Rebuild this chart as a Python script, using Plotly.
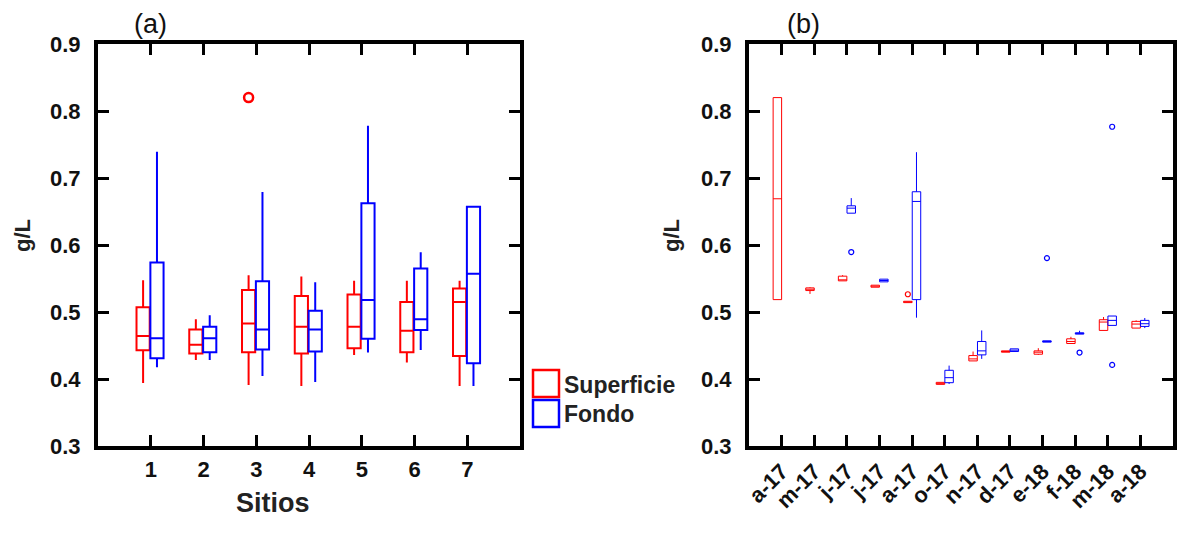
import plotly.graph_objects as go

W, H = 1179, 534

# ---------------- Panel (a) data: sites ----------------
sites = [1, 2, 3, 4, 5, 6, 7]
sup_lo = [0.394, 0.4285, 0.391, 0.3896, 0.436, 0.4245, 0.3896]
sup_q1 = [0.443, 0.438, 0.440, 0.438, 0.446, 0.440, 0.4345]
sup_med = [0.464, 0.451, 0.483, 0.478, 0.478, 0.472, 0.515]
sup_q3 = [0.507, 0.474, 0.533, 0.524, 0.526, 0.515, 0.535]
sup_hi = [0.5475, 0.489, 0.555, 0.553, 0.5465, 0.5465, 0.5465]
sup_out_site = [3]
sup_out_val = [0.820]

fon_lo = [0.4175, 0.4285, 0.4046, 0.3956, 0.4394, 0.4434, 0.3896]
fon_q1 = [0.431, 0.440, 0.444, 0.441, 0.460, 0.473, 0.4235]
fon_med = [0.461, 0.461, 0.474, 0.474, 0.518, 0.489, 0.557]
fon_q3 = [0.574, 0.478, 0.546, 0.502, 0.6625, 0.565, 0.657]
fon_hi = [0.739, 0.495, 0.679, 0.5445, 0.778, 0.589, 0.658]

# ---------------- Panel (b) data: months ----------------
months = ["a-17", "m-17", "j-17", "j-17", "a-17", "o-17", "n-17", "d-17",
          "e-18", "f-18", "m-18", "a-18"]
b_sup_idx = [0, 1, 2, 3, 4, 5, 6, 7, 8, 9, 10, 11]
b_sup_lo = [0.5185, 0.527, 0.5465, 0.537, 0.514, 0.392, 0.427, 0.440, 0.436, 0.453, 0.4725, 0.476]
b_sup_q1 = [0.5185, 0.532, 0.5465, 0.537, 0.514, 0.392, 0.427, 0.440, 0.437, 0.453, 0.4725, 0.476]
b_sup_med = [0.669, 0.534, 0.548, 0.5385, 0.515, 0.394, 0.430, 0.441, 0.440, 0.456, 0.485, 0.482]
b_sup_q3 = [0.820, 0.536, 0.5535, 0.540, 0.516, 0.395, 0.435, 0.442, 0.442, 0.460, 0.4885, 0.486]
b_sup_hi = [0.820, 0.537, 0.555, 0.540, 0.516, 0.395, 0.441, 0.442, 0.446, 0.463, 0.4925, 0.4875]
b_sup_out_idx = [4]
b_sup_out_val = [0.5265]

b_fon_idx = [2, 3, 4, 5, 6, 7, 8, 9, 10, 11]
b_fon_lo = [0.6475, 0.545, 0.4915, 0.3925, 0.430, 0.441, 0.455, 0.467, 0.480, 0.476]
b_fon_q1 = [0.6475, 0.545, 0.5185, 0.3945, 0.436, 0.441, 0.455, 0.467, 0.480, 0.4785]
b_fon_med = [0.655, 0.547, 0.665, 0.402, 0.442, 0.443, 0.456, 0.468, 0.4875, 0.4825]
b_fon_q3 = [0.6585, 0.549, 0.6795, 0.413, 0.456, 0.445, 0.457, 0.469, 0.494, 0.4875]
b_fon_hi = [0.670, 0.549, 0.7385, 0.420, 0.4725, 0.445, 0.457, 0.472, 0.494, 0.491]
b_fon_out_idx = [2, 8, 9, 10, 10]
b_fon_out_val = [0.5895, 0.5805, 0.4395, 0.7765, 0.421]

RED = "#ff0000"
BLUE = "#0000ff"
FONT = "Liberation Sans, Arial, Helvetica, sans-serif"

# offsets (style)
A_OFF_R, A_OFF_B, A_W = -0.145, 0.118, 0.25
B_OFF_R, B_OFF_B, B_W = -0.13, 0.135, 0.26

fig = go.Figure()

def add_box(xs, lo, q1, med, q3, hi, off, width, color, lw, xa, ya):
    fig.add_trace(go.Box(
        x=[x + off for x in xs], lowerfence=lo, q1=q1, median=med, q3=q3,
        upperfence=hi, width=width, line=dict(color=color, width=lw),
        fillcolor="rgba(0,0,0,0)", whiskerwidth=0, boxpoints=False,
        showlegend=False, xaxis=xa, yaxis=ya, hoverinfo="skip"))

def add_out(xs, vals, off, color, size, lw, xa, ya):
    fig.add_trace(go.Scatter(
        x=[x + off for x in xs], y=vals, mode="markers",
        marker=dict(symbol="circle-open", size=size, color=color,
                    line=dict(width=lw, color=color)),
        showlegend=False, xaxis=xa, yaxis=ya, hoverinfo="skip"))

# panel a
add_box(sites, sup_lo, sup_q1, sup_med, sup_q3, sup_hi, A_OFF_R, A_W, RED, 2, "x", "y")
add_box(sites, fon_lo, fon_q1, fon_med, fon_q3, fon_hi, A_OFF_B, A_W, BLUE, 2, "x", "y")
add_out(sup_out_site, sup_out_val, A_OFF_R, RED, 9, 2.5, "x", "y")

# panel b
add_box(b_sup_idx, b_sup_lo, b_sup_q1, b_sup_med, b_sup_q3, b_sup_hi, B_OFF_R, B_W, RED, 1, "x2", "y2")
add_box(b_fon_idx, b_fon_lo, b_fon_q1, b_fon_med, b_fon_q3, b_fon_hi, B_OFF_B, B_W, BLUE, 1, "x2", "y2")
add_out(b_sup_out_idx, b_sup_out_val, B_OFF_R, RED, 5, 1.2, "x2", "y2")
add_out(b_fon_out_idx, b_fon_out_val, B_OFF_B, BLUE, 5, 1.2, "x2", "y2")

def px_x(p):
    return p / W

def px_y(p):
    return 1 - p / H

axis_common = dict(showline=True, linecolor="black", linewidth=4, mirror="allticks",
                   ticks="inside", ticklen=11, tickwidth=2.5, tickcolor="black",
                   showgrid=False, zeroline=False, automargin=False,
                   tickfont=dict(family=FONT, size=22, color="#111", weight="bold"))

yticks = [0.3, 0.4, 0.5, 0.6, 0.7, 0.8, 0.9]

fig.update_layout(
    width=W, height=H, margin=dict(l=0, r=0, t=0, b=0),
    paper_bgcolor="white", plot_bgcolor="white",
    xaxis=dict(domain=[px_x(98), px_x(520)], range=[0, 8], tickvals=sites,
               ticktext=[str(s) for s in sites], anchor="y", ticklabelstandoff=1,
               **axis_common),
    yaxis=dict(domain=[px_y(446), px_y(44)], range=[0.3, 0.9], tickvals=yticks,
               ticktext=[f"{v:.1f}" for v in yticks], anchor="x", ticklabelstandoff=9,
               **axis_common),
    xaxis2=dict(domain=[px_x(749), px_x(1173)], range=[-1, 12],
                tickvals=list(range(len(months))), ticktext=months, tickangle=-45,
                anchor="y2", ticklabelstandoff=0, **axis_common),
    yaxis2=dict(domain=[px_y(446), px_y(44)], range=[0.3, 0.9], tickvals=yticks,
                ticktext=[f"{v:.1f}" for v in yticks], anchor="x2", ticklabelstandoff=9,
                **axis_common),
)

ann_font_b = dict(family=FONT, color="#222", weight="bold")
annotations = [
    dict(x=px_x(150), y=px_y(24), text="(a)", font=dict(family=FONT, size=27, color="#111")),
    dict(x=px_x(803), y=px_y(24), text="(b)", font=dict(family=FONT, size=27, color="#111")),
    dict(x=px_x(273), y=px_y(503), text="Sitios", font=dict(size=27, **ann_font_b)),
    dict(x=px_x(23), y=px_y(236), text="g/L", textangle=-90, font=dict(size=22, **ann_font_b)),
    dict(x=px_x(672), y=px_y(236), text="g/L", textangle=-90, font=dict(size=22, **ann_font_b)),
    dict(x=px_x(562), y=px_y(385), text="Superficie", xanchor="left",
         font=dict(size=23, **ann_font_b)),
    dict(x=px_x(562), y=px_y(414), text="Fondo", xanchor="left",
         font=dict(size=23, **ann_font_b)),
]
for a in annotations:
    a.setdefault("xanchor", "center")
    a.update(xref="paper", yref="paper", yanchor="middle", showarrow=False)
fig.update_layout(annotations=annotations)

fig.add_shape(type="rect", xref="paper", yref="paper",
              x0=px_x(533), x1=px_x(559), y0=px_y(397), y1=px_y(370),
              line=dict(color=RED, width=2.5))
fig.add_shape(type="rect", xref="paper", yref="paper",
              x0=px_x(533), x1=px_x(559), y0=px_y(427), y1=px_y(400),
              line=dict(color=BLUE, width=2.5))

fig.write_html("out.html")
